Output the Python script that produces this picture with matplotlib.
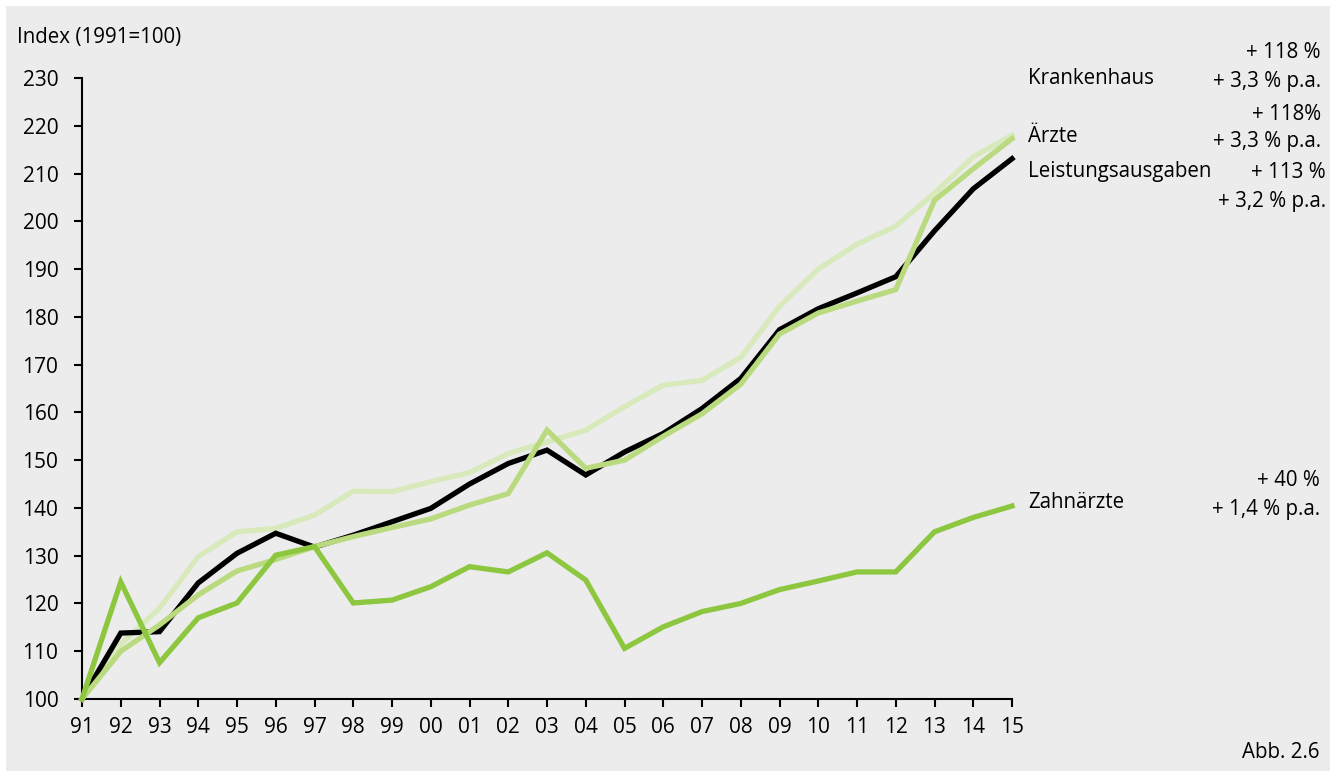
import matplotlib.pyplot as plt
import matplotlib.patches as mpatches

plt.rcParams['font.family'] = ['Open Sans', 'DejaVu Sans']

# --- Daten (Index 1991 = 100) ---
jahre = ['91', '92', '93', '94', '95', '96', '97', '98', '99', '00', '01', '02', '03',
         '04', '05', '06', '07', '08', '09', '10', '11', '12', '13', '14', '15']

leistungsausgaben = [100, 113.8, 114.1, 124.3, 130.5, 134.7, 131.8, 134.3, 137.1, 139.9,
                     145.0, 149.3, 152.1, 146.9, 151.7, 155.6, 160.8, 167.1, 177.3, 181.7,
                     185.0, 188.4, 198.0, 206.8, 213.1]
krankenhaus = [100, 111.5, 119.0, 129.8, 135.0, 135.7, 138.5, 143.5, 143.4, 145.5,
               147.4, 151.4, 153.8, 156.3, 161.2, 165.7, 166.7, 171.5, 182.2, 190.0,
               195.2, 199.0, 205.9, 213.5, 218.0]
aerzte = [100, 110.0, 115.5, 121.8, 126.8, 129.2, 131.9, 134.0, 135.9, 137.7,
          140.6, 143.0, 156.3, 148.3, 150.0, 155.0, 159.7, 165.9, 176.4, 180.8,
          183.3, 185.7, 204.4, 211.0, 217.3]
zahnaerzte = [100, 124.5, 107.6, 117.0, 120.1, 130.1, 131.9, 120.1, 120.7, 123.5,
              127.7, 126.6, 130.6, 124.9, 110.6, 115.1, 118.3, 120.0, 122.9, 124.7,
              126.6, 126.6, 135.0, 138.0, 140.4]

W, H = 1335, 771
BG = '#ececec'

fig = plt.figure(figsize=(W / 100, H / 100), dpi=100)
fig.patch.set_facecolor('white')
fig.patches.append(mpatches.Rectangle((6 / W, 0), (1330 - 6) / W, 1 - 6 / H,
                                      transform=fig.transFigure, facecolor=BG,
                                      edgecolor='none', zorder=-10))

ax = fig.add_axes([82 / W, 1 - 699 / H, (1012 - 82) / W, (699 - 78) / H])
ax.set_facecolor('none')

x = list(range(len(jahre)))
ax.plot(x, krankenhaus, color='#d8e9bb', lw=3.8, solid_joinstyle='miter', clip_on=False, zorder=2)
ax.plot(x, leistungsausgaben, color='black', lw=3.8, solid_joinstyle='miter', clip_on=False, zorder=3)
ax.plot(x, aerzte, color='#b9da7e', lw=3.8, solid_joinstyle='miter', clip_on=False, zorder=4)
ax.plot(x, zahnaerzte, color='#8dc63f', lw=3.8, solid_joinstyle='miter', clip_on=False, zorder=5)

ax.set_xlim(0, len(jahre) - 1)
ax.set_ylim(100, 230)
ax.set_xticks(x)
ax.set_xticklabels(jahre)
ax.set_yticks(range(100, 231, 10))

for s in ['top', 'right']:
    ax.spines[s].set_visible(False)
for s in ['left', 'bottom']:
    ax.spines[s].set_linewidth(1.5)
ax.tick_params(axis='both', direction='out', length=6, width=1.5, labelsize=15, colors='black')
ax.tick_params(axis='x', pad=7)
ax.tick_params(axis='y', pad=11)


def ftext(px, py, s, **kw):
    fig.text(px / W, 1 - py / H, s, fontsize=14.8, va='center', **kw)


ftext(17, 37, 'Index (1991=100)', ha='left')

ftext(1028, 79, 'Krankenhaus', ha='left')
ftext(1321, 52, '+ 118 %', ha='right')
ftext(1321, 81, '+ 3,3 % p.a.', ha='right')

ftext(1028, 137, 'Ärzte', ha='left')
ftext(1321, 114, '+ 118%', ha='right')
ftext(1321, 142, '+ 3,3 % p.a.', ha='right')

ftext(1028, 172, 'Leistungsausgaben', ha='left')
ftext(1326, 172, '+ 113 %', ha='right')
ftext(1326, 202, '+ 3,2 % p.a.', ha='right')

ftext(1028, 502, 'Zahnärzte', ha='left')
ftext(1320, 480, '+ 40 %', ha='right')
ftext(1320, 509, '+ 1,4 % p.a.', ha='right')

ftext(1320, 752, 'Abb. 2.6', ha='right')

fig.savefig('out.png', dpi=100)
